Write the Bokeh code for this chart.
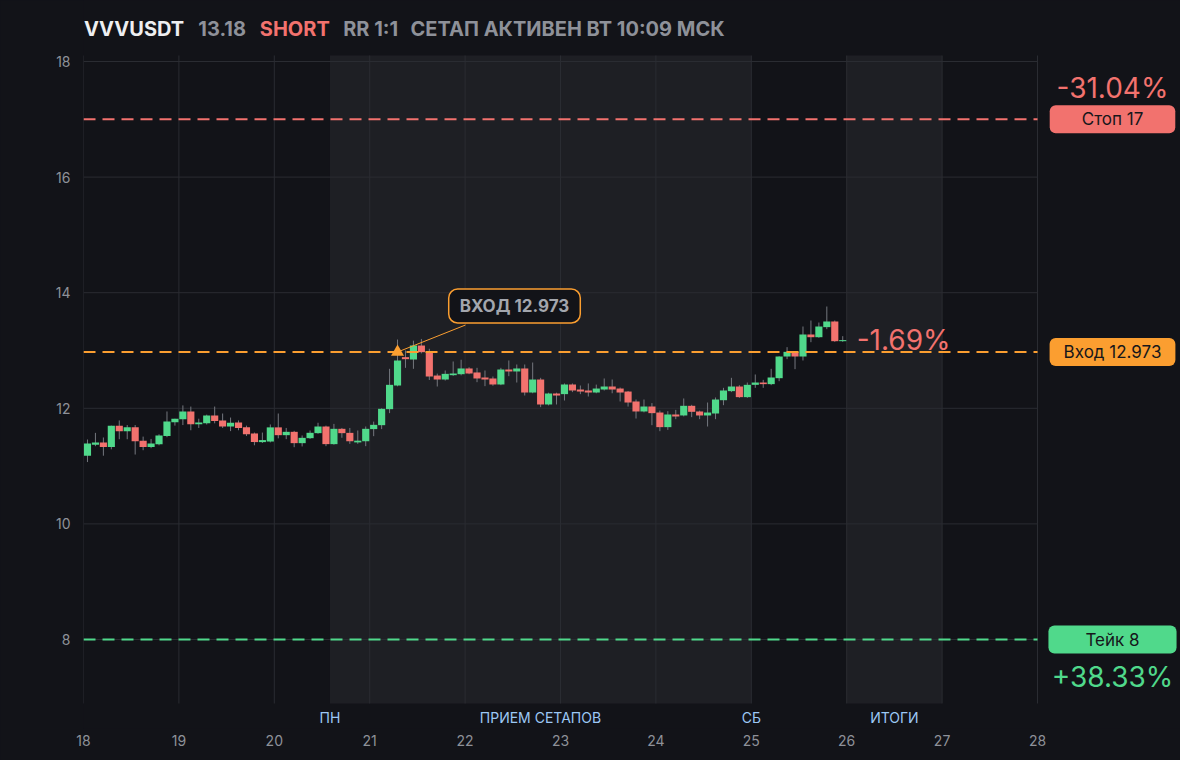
from bokeh.plotting import figure
from bokeh.models import Range1d, Label, FixedTicker, ColumnDataSource
from bokeh.embed import file_html
from bokeh.resources import INLINE

# ---------------- data ----------------
symbol = "VVVUSDT"
last_price_text = "13.18"
side = "SHORT"
rr_text = "RR 1:1"
status_text = "СЕТАП АКТИВЕН ВТ 10:09 МСК"

start_day = 18.0          # first candle bucket starts at day 18, 00:00
bar_hours = 2             # 2-hour candles

opens = [11.18, 11.37, 11.41, 11.33, 11.70, 11.605, 11.67, 11.44, 11.33, 11.38,
         11.52, 11.76, 11.81, 11.945, 11.725, 11.74, 11.875, 11.79, 11.685, 11.755,
         11.67, 11.565, 11.415, 11.425, 11.67, 11.535, 11.593, 11.397, 11.483, 11.57,
         11.685, 11.38, 11.645, 11.575, 11.41, 11.43, 11.64, 11.708, 11.985, 12.394,
         12.885, 12.844, 13.086, 12.971, 12.567, 12.498, 12.573, 12.59, 12.689, 12.62,
         12.533, 12.516, 12.412, 12.671, 12.637, 12.689, 12.273, 12.498, 12.066, 12.256,
         12.245, 12.412, 12.325, 12.308, 12.273, 12.325, 12.377, 12.342, 12.29, 12.118,
         11.945, 12.031, 11.927, 11.674, 11.893, 11.876, 12.043, 11.945, 11.876, 11.91,
         12.14, 12.297, 12.377, 12.193, 12.406, 12.446, 12.418, 12.521, 12.896, 12.977,
         12.896, 13.277, 13.23, 13.404, 13.502, 13.161]
highs = [11.46, 11.575, 11.495, 11.70, 11.79, 11.71, 11.71, 11.51, 11.47, 11.55,
         11.945, 11.82, 12.05, 12.03, 11.82, 11.89, 12.03, 11.91, 11.84, 11.79,
         11.70, 11.58, 11.58, 11.72, 11.91, 11.66, 11.61, 11.53, 11.616, 11.75,
         11.70, 11.73, 11.66, 11.66, 11.616, 11.685, 11.77, 12.00, 12.683, 13.19,
         13.00, 13.17, 13.20, 13.03, 12.60, 12.654, 12.81, 12.84, 12.71, 12.70,
         12.654, 12.55, 12.70, 12.827, 12.758, 12.758, 12.792, 12.527, 12.27, 12.27,
         12.43, 12.43, 12.394, 12.43, 12.41, 12.516, 12.498, 12.36, 12.30, 12.152,
         12.152, 12.09, 11.96, 11.95, 11.973, 12.17, 12.06, 11.96, 12.10, 12.187,
         12.354, 12.527, 12.40, 12.446, 12.585, 12.492, 12.683, 12.90, 13.058, 12.99,
         13.415, 13.519, 13.484, 13.761, 13.519, 13.248]
lows = [11.07, 11.345, 11.18, 11.29, 11.465, 11.465, 11.20, 11.275, 11.31, 11.36,
        11.50, 11.70, 11.71, 11.62, 11.66, 11.72, 11.74, 11.66, 11.605, 11.62,
        11.52, 11.36, 11.40, 11.41, 11.48, 11.466, 11.327, 11.34, 11.47, 11.56,
        11.345, 11.37, 11.49, 11.385, 11.385, 11.345, 11.518, 11.64, 11.916, 12.38,
        12.70, 12.683, 12.95, 12.49, 12.377, 12.48, 12.56, 12.57, 12.59, 12.452,
        12.383, 12.39, 12.40, 12.556, 12.446, 12.221, 12.26, 12.02, 12.05, 12.066,
        12.135, 12.28, 12.245, 12.204, 12.26, 12.308, 12.26, 12.118, 12.03, 11.823,
        11.93, 11.708, 11.604, 11.627, 11.812, 11.86, 11.847, 11.812, 11.685, 11.812,
        12.054, 12.28, 12.18, 12.18, 12.354, 12.354, 12.40, 12.469, 12.85, 12.677,
        12.827, 13.144, 13.22, 13.369, 13.15, 13.15]
closes = [11.39, 11.41, 11.33, 11.70, 11.605, 11.67, 11.43, 11.33, 11.39, 11.53,
          11.77, 11.82, 11.945, 11.725, 11.755, 11.875, 11.78, 11.685, 11.75, 11.66,
          11.55, 11.415, 11.45, 11.67, 11.535, 11.593, 11.397, 11.489, 11.576, 11.685,
          11.38, 11.645, 11.57, 11.43, 11.44, 11.645, 11.714, 11.991, 12.406, 12.827,
          12.85, 13.087, 12.971, 12.55, 12.498, 12.596, 12.602, 12.689, 12.602, 12.516,
          12.498, 12.412, 12.671, 12.637, 12.689, 12.273, 12.498, 12.066, 12.256, 12.221,
          12.412, 12.308, 12.29, 12.273, 12.342, 12.377, 12.325, 12.273, 12.10, 11.945,
          12.031, 11.916, 11.674, 11.893, 11.858, 12.043, 11.939, 11.876, 11.927, 12.152,
          12.308, 12.377, 12.193, 12.406, 12.446, 12.418, 12.533, 12.896, 12.977, 12.896,
          13.277, 13.23, 13.415, 13.502, 13.161, 13.18]

stop_price = 17.0
entry_price = 12.973
take_price = 8.0
entry_candle = 39
live_pct_text = "-1.69%"

x_ticks = [18, 19, 20, 21, 22, 23, 24, 25, 26, 27, 28]
y_ticks = [8, 10, 12, 14, 16, 18]

band_starts = [20.5833, 26.0]
band_ends = [25.0, 27.0]
band_label_texts = ["ПН", "ПРИЕМ СЕТАПОВ", "СБ", "ИТОГИ"]
band_label_x = [20.5833, 22.79, 25.0, 26.5]

# ---------------- style / layout ----------------
BG = "#121318"
BAND = "#1e1f24"
GRID = "#2a2c32"
GREEN = "#50d98b"
RED = "#f2726e"
ORANGE = "#fb9e30"
WICK = "#74777e"
TICK = "#8e9199"
BLUE = "#9cc8f5"
FONT = "Inter"

W, H = 1180, 760
ML, MR, MT, MB = 83, 0, 0, 32
ppx, ppy = 95.4, 57.8                 # pixels per day, pixels per price unit
x_lo, x_hi = 18.0, 28.0               # chart area (days)
y_lo, y_hi = 6.893, 18.104            # chart area (price)
view_x_lo = x_lo
view_x_hi = x_lo + (W - ML - MR) / ppx
view_y_hi = 18.0 + 61 / ppy           # frame top is the top of the canvas
view_y_lo = view_y_hi - (H - MT - MB) / ppy


def px_x(px):
    return view_x_lo + (px - ML) / ppx


def px_y(py):
    return view_y_hi - (py - MT) / ppy


p = figure(width=W, height=H,
           x_range=Range1d(view_x_lo, view_x_hi), y_range=Range1d(view_y_lo, view_y_hi),
           output_backend="svg", toolbar_location=None,
           min_border_left=ML, min_border_right=MR, min_border_top=MT, min_border_bottom=MB,
           background_fill_color=BG, border_fill_color=BG)
p.styles = {"background-color": BG}
p.outline_line_color = None
p.outline_line_alpha = 0
p.xgrid.visible = False
p.ygrid.visible = False

for ax in (p.xaxis, p.yaxis):
    ax.axis_line_color = None
    ax.axis_line_alpha = 0
    ax.major_tick_line_color = None
    ax.minor_tick_line_color = None
    ax.major_label_text_color = TICK
    ax.major_label_text_font = FONT
    ax.major_label_text_font_size = "14px"
p.xaxis.ticker = FixedTicker(ticks=x_ticks)
p.yaxis.ticker = FixedTicker(ticks=y_ticks)
p.xaxis.major_label_standoff = 0
p.yaxis.major_label_standoff = 7

# session bands
p.quad(left=band_starts, right=band_ends, bottom=y_lo, top=y_hi,
       fill_color=BAND, line_color=None)

# grid (chart area only)
p.segment(x0=x_ticks, x1=x_ticks, y0=y_lo, y1=y_hi, line_color=GRID, line_width=1)
p.segment(x0=x_lo, x1=x_hi, y0=y_ticks, y1=y_ticks, line_color=GRID, line_width=1)

# candles
times = [start_day + (2 * i + 1) * (bar_hours / 2) / 24 for i in range(len(opens))]
src = ColumnDataSource(dict(
    t=times, o=opens, h=highs, l=lows, c=closes,
    top=[max(o, c) for o, c in zip(opens, closes)],
    bot=[min(o, c) for o, c in zip(opens, closes)],
    col=[GREEN if c >= o else RED for o, c in zip(opens, closes)],
))
p.segment(x0="t", y0="h", x1="t", y1="l", source=src, line_color=WICK, line_width=1)
p.vbar(x="t", top="top", bottom="bot", width=0.075, source=src,
       fill_color="col", line_color=None)

# level lines
levels = [stop_price, entry_price, take_price]
level_colors = [RED, ORANGE, GREEN]
for lvl, col in zip(levels, level_colors):
    p.segment(x0=[x_lo], x1=[x_hi], y0=[lvl], y1=[lvl], line_color=col,
              line_width=2, line_dash="12 7")

# entry marker + callout
et = times[entry_candle]
callout_x = px_x(514)
callout_y = px_y(305.5)
p.segment(x0=[et], y0=[entry_price], x1=[callout_x - 49 / ppx], y1=[callout_y - 19 / ppy],
          line_color=ORANGE, line_width=1)
p.scatter(x=[et], y=[entry_price], marker="triangle", size=13,
          fill_color=ORANGE, line_color=None)
p.add_layout(Label(x=callout_x, y=callout_y, text="ВХОД %.3f" % entry_price,
                   text_align="center", text_baseline="middle",
                   text_font=FONT, text_font_size="17px", text_font_style="bold",
                   text_color="#a3a6ad", background_fill_color=BG,
                   border_line_color=ORANGE, border_line_width=1.5,
                   border_radius=9, padding=(11, 7)))

# live pnl label
p.add_layout(Label(x=times[-1] + 14 / ppx, y=closes[-1], text=live_pct_text,
                   text_align="left", text_baseline="middle",
                   text_font=FONT, text_font_size="28px", text_color=RED))

# right side pills
pill_x = px_x(1112)
pills = [("Стоп %g" % stop_price, stop_price, RED, 32),
         ("Вход %.3f" % entry_price, entry_price, ORANGE, 14),
         ("Тейк %g" % take_price, take_price, GREEN, 37)]
for txt, lvl, col, padx in pills:
    p.add_layout(Label(x=pill_x, y=lvl, text=txt, text_align="center", text_baseline="middle",
                       text_font=FONT, text_font_size="17px", text_color="#16171b",
                       background_fill_color=col, border_line_color=None,
                       border_radius=6, padding=(padx, 4)))

stop_pct = (entry_price - stop_price) / entry_price * 100
take_pct = (entry_price - take_price) / entry_price * 100
p.add_layout(Label(x=pill_x, y=stop_price + 31 / ppy, text="%.2f%%" % stop_pct,
                   text_align="center", text_baseline="middle",
                   text_font=FONT, text_font_size="28px", text_color=RED))
p.add_layout(Label(x=pill_x, y=take_price - 37 / ppy, text="+%.2f%%" % take_pct,
                   text_align="center", text_baseline="middle",
                   text_font=FONT, text_font_size="28px", text_color=GREEN))

# band labels under the chart area
for txt, bx in zip(band_label_texts, band_label_x):
    p.add_layout(Label(x=bx, y=px_y(717), text=txt, text_align="center",
                       text_baseline="middle", text_font=FONT, text_font_size="14px",
                       text_color=BLUE))

# header
header = [(symbol, "#eeeff1", 83.4), (last_price_text, "#8e9199", 197.8),
          (side, RED, 259.3), (rr_text, "#8e9199", 342.7), (status_text, "#8e9199", 410.0)]
for txt, col, hx in header:
    p.add_layout(Label(x=px_x(hx), y=px_y(28), text=txt, text_align="left",
                       text_baseline="middle", text_font=FONT, text_font_size="20px",
                       text_font_style="bold", text_color=col))

open("out.html", "w").write(file_html(p, INLINE))
